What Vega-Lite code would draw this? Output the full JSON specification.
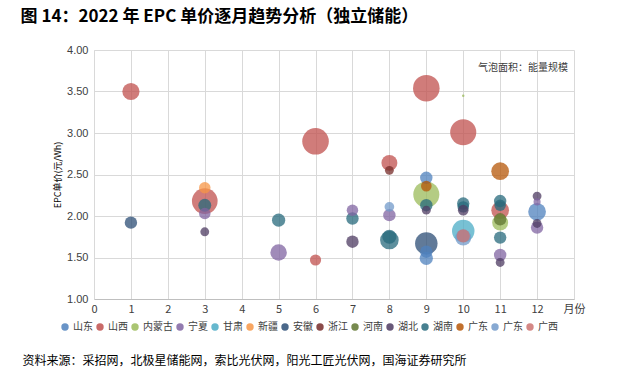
{
  "$schema": "https://vega.github.io/schema/vega-lite/v6.json",
  "background": "white",
  "padding": {"left": 20, "top": 8, "right": 10, "bottom": 5},
  "title": {"text": "图 14：2022 年 EPC 单价逐月趋势分析（独立储能）", "anchor": "start", "font": "Noto Sans CJK SC", "fontSize": 17, "fontWeight": "bold", "color": "#000000", "dx": -2, "offset": 18},
  "config": {
    "view": {"stroke": null},
    "font": "Noto Sans CJK SC"
  },
  "vconcat": [
    {
      "width": 480,
      "height": 249,
      "title": {"text": "资料来源：采招网，北极星储能网，索比光伏网，阳光工匠光伏网，国海证券研究所", "orient": "bottom", "anchor": "start", "font": "Noto Sans CJK SC", "fontSize": 12, "fontWeight": "normal", "color": "#000000", "dx": -31, "offset": 42},
      "encoding": {
        "x": {"field": "month", "type": "quantitative",
          "scale": {"domain": [0, 13], "nice": false, "zero": false},
          "axis": {"title": null, "values": [0,1,2,3,4,5,6,7,8,9,10,11,12,13],
            "labelExpr": "datum.value == 13 ? '月份' : datum.label",
            "labelOverlap": false, "labelBound": false,
            "labelFont": "Noto Sans CJK SC", "labelFontSize": 11, "labelColor": "#404040",
            "ticks": false, "labelPadding": 4, "domainColor": "#BFBFBF",
            "grid": true, "gridColor": "#D9D9D9", "labelFlush": false}},
        "y": {"field": "price", "type": "quantitative",
          "scale": {"domain": [1, 4], "nice": false, "zero": false},
          "axis": {"title": "EPC单价(元/Wh)", "titleFont": "Noto Sans CJK SC", "titleFontSize": 9, "titleFontWeight": "normal", "titleColor": "#000000", "titlePadding": 4,
            "values": [1, 1.5, 2, 2.5, 3, 3.5, 4], "format": ".2f", "labelOverlap": false,
            "labelFont": "Liberation Sans", "labelFontSize": 11, "labelColor": "#404040",
            "ticks": false, "labelPadding": 6, "domainColor": "#D9D9D9",
            "grid": true, "gridColor": "#D9D9D9"}}
      },
      "layer": [
        {
          "data": {"values": [
            {"month": 1, "series": "山西", "price": 3.50, "scale": 94},
            {"month": 1, "series": "安徽", "price": 1.92, "scale": 49},
            {"month": 3, "series": "新疆", "price": 2.34, "scale": 42},
            {"month": 3, "series": "山西", "price": 2.18, "scale": 210},
            {"month": 3, "series": "湖南", "price": 2.13, "scale": 53},
            {"month": 3, "series": "宁夏", "price": 2.03, "scale": 42},
            {"month": 3, "series": "湖北", "price": 1.81, "scale": 25},
            {"month": 5, "series": "湖南", "price": 1.95, "scale": 56},
            {"month": 5, "series": "宁夏", "price": 1.56, "scale": 86},
            {"month": 6, "series": "山西", "price": 2.90, "scale": 225},
            {"month": 6, "series": "山西", "price": 1.47, "scale": 40},
            {"month": 7, "series": "宁夏", "price": 2.07, "scale": 42},
            {"month": 7, "series": "湖南", "price": 1.97, "scale": 49},
            {"month": 7, "series": "湖北", "price": 1.69, "scale": 49},
            {"month": 8, "series": "山西", "price": 2.64, "scale": 81},
            {"month": 8, "series": "浙江", "price": 2.55, "scale": 25},
            {"month": 8, "series": "广东2", "price": 2.11, "scale": 30},
            {"month": 8, "series": "宁夏", "price": 2.01, "scale": 49},
            {"month": 8, "series": "湖南", "price": 1.71, "scale": 110},
            {"month": 8, "series": "湖南", "price": 1.75, "scale": 64},
            {"month": 9, "series": "山西", "price": 3.54, "scale": 225},
            {"month": 9, "series": "山东", "price": 2.46, "scale": 49},
            {"month": 9, "series": "广东", "price": 2.36, "scale": 36},
            {"month": 9, "series": "内蒙古", "price": 2.26, "scale": 216},
            {"month": 9, "series": "湖南", "price": 2.13, "scale": 49},
            {"month": 9, "series": "湖北", "price": 2.07, "scale": 25},
            {"month": 9, "series": "安徽", "price": 1.67, "scale": 161},
            {"month": 9, "series": "山东", "price": 1.49, "scale": 56},
            {"month": 9, "series": "山东", "price": 1.57, "scale": 49},
            {"month": 10, "series": "内蒙古", "price": 3.45, "scale": 2},
            {"month": 10, "series": "山西", "price": 3.01, "scale": 216},
            {"month": 10, "series": "湖南", "price": 2.15, "scale": 49},
            {"month": 10, "series": "湖南", "price": 2.11, "scale": 42},
            {"month": 10, "series": "湖北", "price": 2.07, "scale": 36},
            {"month": 10, "series": "甘肃", "price": 1.82, "scale": 161},
            {"month": 10, "series": "广东2", "price": 1.74, "scale": 81},
            {"month": 10, "series": "广西", "price": 1.76, "scale": 56},
            {"month": 11, "series": "广东", "price": 2.54, "scale": 100},
            {"month": 11, "series": "湖南", "price": 2.18, "scale": 49},
            {"month": 11, "series": "湖南", "price": 2.13, "scale": 42},
            {"month": 11, "series": "山西", "price": 2.07, "scale": 100},
            {"month": 11, "series": "内蒙古", "price": 1.92, "scale": 81},
            {"month": 11, "series": "河南", "price": 1.96, "scale": 49},
            {"month": 11, "series": "湖南", "price": 1.74, "scale": 49},
            {"month": 11, "series": "宁夏", "price": 1.53, "scale": 49},
            {"month": 11, "series": "湖北", "price": 1.44, "scale": 25},
            {"month": 12, "series": "湖北", "price": 2.24, "scale": 25},
            {"month": 12, "series": "宁夏", "price": 2.17, "scale": 16},
            {"month": 12, "series": "山东", "price": 2.05, "scale": 100},
            {"month": 12, "series": "湖北", "price": 1.91, "scale": 25},
            {"month": 12, "series": "宁夏", "price": 1.86, "scale": 49}
          ]},
          "mark": {"type": "circle", "opacity": 0.75, "stroke": null},
          "encoding": {
            "size": {"field": "scale", "type": "quantitative", "scale": {"domain": [0, 225], "range": [0, 707], "zero": true}, "legend": null},
            "color": {"field": "series", "type": "nominal",
              "scale": {"domain": ["山东","山西","内蒙古","宁夏","甘肃","新疆","安徽","浙江","河南","湖北","湖南","广东","广东2","广西"],
                "range": ["#4F81BD","#C0504D","#9BBB59","#8064A2","#4BACC6","#F79646","#2C4D75","#772C2A","#5F7530","#4D3B62","#276A7C","#B65708","#729ACA","#CD7371"]},
              "legend": {"title": null, "orient": "none", "direction": "horizontal", "legendX": -34, "legendY": 272,
                "labelExpr": "datum.label == '广东2' ? '广东' : datum.label",
                "symbolType": "circle", "symbolSize": 55, "symbolOpacity": 0.85, "symbolStrokeWidth": 0,
                "labelFont": "Noto Sans CJK SC", "labelFontSize": 10, "labelColor": "#404040", "labelOffset": 3, "columnPadding": 2}},
            "order": {"field": "scale", "sort": "descending"}
          }
        },
        {
          "data": {"values": [{"month": 13, "price": 3.78, "label": "气泡面积：能量规模"}]},
          "mark": {"type": "text", "align": "right", "baseline": "middle", "dx": -6, "font": "Noto Sans CJK SC", "fontSize": 10, "color": "#404040"},
          "encoding": {
            "text": {"field": "label"}
          }
        }
      ]
    }
  ]
}
